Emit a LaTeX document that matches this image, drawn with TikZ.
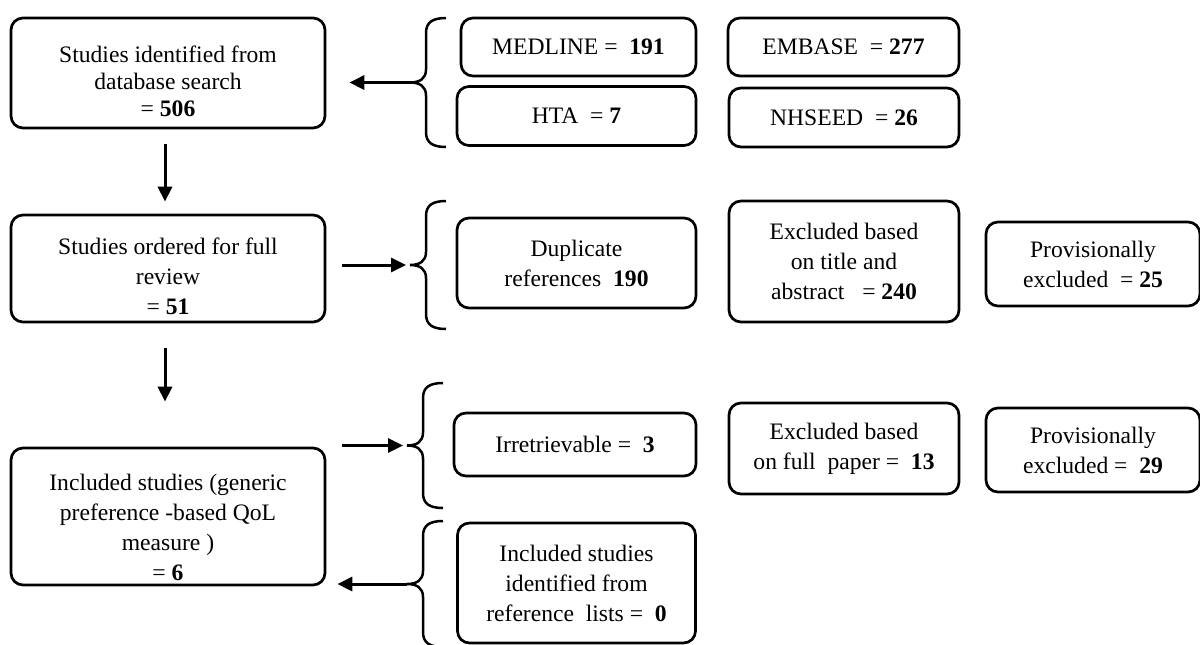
\documentclass[tikz,border=0pt]{standalone}
\usepackage{fontspec}
\setmainfont{Liberation Serif}
\usetikzlibrary{arrows.meta}

% draws a left curly brace: spine x, top y, bottom y, name of the tip coordinate
\newcommand{\drawbrace}[4]{%
  \pgfmathsetmacro\bmid{(#2+#3)/2}%
  \draw[bracel] (#1+20,#2) .. controls (#1+7,#2) and (#1,#2+4) .. (#1,#2+15)
    -- (#1,\bmid-13) .. controls (#1,\bmid-4) and (#1-6,\bmid) .. (#1-16,\bmid)
    .. controls (#1-6,\bmid) and (#1,\bmid+4) .. (#1,\bmid+13)
    -- (#1,#3-15) .. controls (#1,#3-4) and (#1+7,#3) .. (#1+20,#3);
  \coordinate (#4) at (#1-16,\bmid);%
}

\begin{document}
\begin{tikzpicture}[x=0.5pt,y=-0.5pt,
  txt/.style={align=center, inner sep=0pt,
    font=\fontsize{11.8pt}{15pt}\selectfont},
  box/.style={txt, draw=black, line width=1.35pt, rounded corners=6pt},
  bracel/.style={draw=black, line width=1.25pt},
  arr/.style={draw=black, line width=1.5pt,
    -{Triangle[length=7.5pt,width=7pt]}}
]
\clip (0,0) rectangle (1200,644);
\fill[white] (0,0) rectangle (1200,644);

% main column: frames, with their texts set a little below centre
\node[box, minimum width=157pt, minimum height=55pt] (b1) at (168,73) {};
\node[txt, font=\fontsize{11.8pt}{13.5pt}\selectfont] (b1t)
  at ([yshift=-4pt]b1.center)
  {Studies identified from\\database search\\= \textbf{506}};
\node[box, minimum width=157pt, minimum height=53.5pt] (b2) at (168,268.5) {};
\node[txt] (b2t) at ([yshift=-4pt]b2.center)
  {Studies ordered for full\\review\\= \textbf{51}};
\node[box, minimum width=157pt, minimum height=68.5pt] (b3) at (168,516.5) {};
\node[txt] (b3t) at ([yshift=-5.5pt]b3.center)
  {Included studies (generic\\preference -based QoL\\measure )\\= \textbf{6}};

% database sources
\node[box, minimum width=117.5pt, minimum height=29pt] (medline) at (578.5,47)
  {MEDLINE = \ \textbf{191}};
\node[box, minimum width=119.5pt, minimum height=29.5pt] (hta) at (576.5,116)
  {HTA \ = \textbf{7}};
\node[box, minimum width=115.5pt, minimum height=29pt] (embase) at (843.5,47)
  {EMBASE \ = \textbf{277}};
\node[box, minimum width=115pt, minimum height=29.5pt] (nhseed) at (844,117.5)
  {NHSEED \ = \textbf{26}};

% exclusions at screening
\node[box, minimum width=119.5pt, minimum height=45pt] (dup) at (576.5,263)
  {Duplicate\\references \ \textbf{190}};
\node[box, minimum width=115pt, minimum height=60.5pt] (exta) at (844,261.5)
  {Excluded based\\on title and\\abstract \ \ = \textbf{240}};
\node[box, minimum width=107pt, minimum height=42pt] (prov1) at (1093,264)
  {Provisionally\\excluded \ = \textbf{25}};

% exclusions at full review
\node[box, minimum width=121pt, minimum height=31.5pt] (irr) at (575,444.5)
  {Irretrievable = \ \textbf{3}};
\node[box, minimum width=115pt, minimum height=45.5pt] (exfp) at (844,448.5)
  {Excluded based\\on full \ paper = \ \textbf{13}};
\node[box, minimum width=107pt, minimum height=42pt] (prov2) at (1093,450)
  {Provisionally\\excluded = \ \textbf{29}};

% added from reference lists
\node[box, minimum width=119pt, minimum height=60pt] (incref) at (576.5,583)
  {Included studies\\identified from\\reference \ lists = \ \textbf{0}};

% braces grouping the side boxes
\drawbrace{426}{18}{147}{br1}
\drawbrace{426}{201}{329}{br2}
\drawbrace{423}{383}{508}{br3}
\drawbrace{423}{521}{647}{br4}

% connectors
\draw[arr, shorten >=11.5pt] (br1) -- (b1.east |- br1);
\draw[arr, shorten <=8pt, shorten >=2pt] (b2.east |- br2) -- (br2);
\draw[arr, shorten <=8pt, shorten >=2pt] (b3.east |- br3) -- (br3);
\draw[arr, shorten >=5.5pt] (br4) -- (b3.east |- br4);
\draw[arr, shorten <=7.5pt, shorten >=6pt]
  ([xshift=-1.5pt]b1.south) -- ([xshift=-1.5pt]b2.north);
\draw[arr, shorten <=12.5pt, shorten >=22.5pt]
  ([xshift=-1.5pt]b2.south) -- ([xshift=-1.5pt]b3.north);
\end{tikzpicture}
\end{document}
